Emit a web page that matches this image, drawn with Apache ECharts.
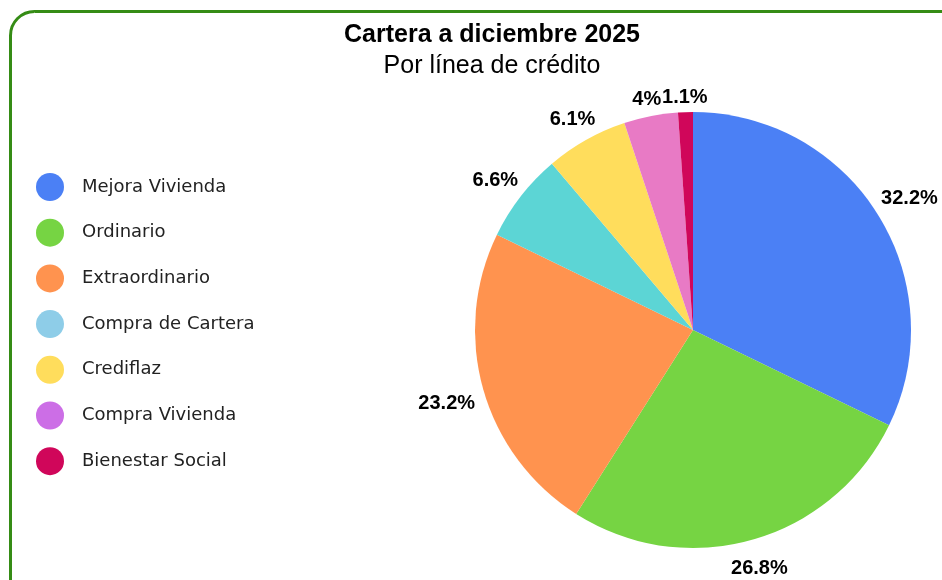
<!DOCTYPE html>
<html>
<head>
<meta charset="utf-8">
<script src="https://cdn.jsdelivr.net/npm/echarts@6/dist/echarts.min.js"></script>
<style>html,body{margin:0;padding:0;background:#fff;}#c{width:942px;height:580px;}</style>
</head>
<body>
<div id="c"></div>
<script>
const categories = ['Mejora Vivienda','Ordinario','Extraordinario','Compra de Cartera','Crediflaz','Compra Vivienda','Bienestar Social'];
const values = [32.2, 26.8, 23.2, 6.6, 6.1, 4, 1.1];
const pieColors = ['#4b80f5','#76d443','#ff934f','#5cd5d5','#ffdd5c','#e87ac5','#d0065a'];
const legendColors = ['#4b80f5','#76d443','#ff934f','#8ecde8','#ffdd5c','#cc6ee6','#d0065a'];
const titleText = 'Cartera a diciembre 2025';
const subtitleText = 'Por línea de crédito';

const CX = 693, CY = 330, R = 218;
const total = values.reduce((a, b) => a + b, 0);
const chart = echarts.init(document.getElementById('c'), null, {renderer: 'canvas'});

chart.setOption({
  animation: false,
  backgroundColor: '#fff',
  graphic: [{
    type: 'rect', z: -1, silent: true,
    shape: {x: 10.5, y: 11.5, width: 1000, height: 640, r: 24},
    style: {fill: 'none', stroke: '#358c15', lineWidth: 3}
  }],
  title: {
    text: titleText,
    subtext: subtitleText,
    left: 487, top: 18, textAlign: 'center', itemGap: 6,
    textStyle: {fontFamily: 'Liberation Sans', fontWeight: 'bold', fontSize: 25, color: '#000'},
    subtextStyle: {fontFamily: 'Liberation Sans', fontSize: 25, color: '#000'}
  },
  legend: {
    orient: 'vertical', left: 31, top: 168,
    itemWidth: 28, itemHeight: 28, itemGap: 17.7, icon: 'circle',
    textStyle: {fontFamily: 'DejaVu Sans', fontSize: 18, color: '#222', padding: [0, 0, 0, 13]},
    data: categories.map((n, i) => ({name: n, itemStyle: {color: legendColors[i]}}))
  },
  series: [{
    type: 'pie',
    center: [CX, CY], radius: [0, R],
    startAngle: 90, clockwise: true,
    data: categories.map((n, i) => ({name: n, value: values[i], itemStyle: {color: pieColors[i]}})),
    label: {
      show: true, position: 'inside', formatter: '{c}%',
      color: '#000', fontFamily: 'Liberation Sans', fontWeight: 'bold', fontSize: 20
    },
    labelLine: {show: false},
    emphasis: {disabled: true},
    labelLayout: function (p) {
      const i = p.dataIndex;
      let cum = 0;
      for (let k = 0; k < i; k++) cum += values[k];
      const a = (cum + values[i] / 2) / total * Math.PI * 2;
      const dx = Math.sin(a), dy = -Math.cos(a);
      const w = p.labelRect.width, h = p.labelRect.height;
      const rr = R + 8 + Math.abs(dx) * w / 2 + Math.abs(dy) * h / 2;
      return {x: CX + dx * rr, y: CY + dy * rr + 4, align: 'center', verticalAlign: 'middle'};
    }
  }]
});
</script>
</body>
</html>
